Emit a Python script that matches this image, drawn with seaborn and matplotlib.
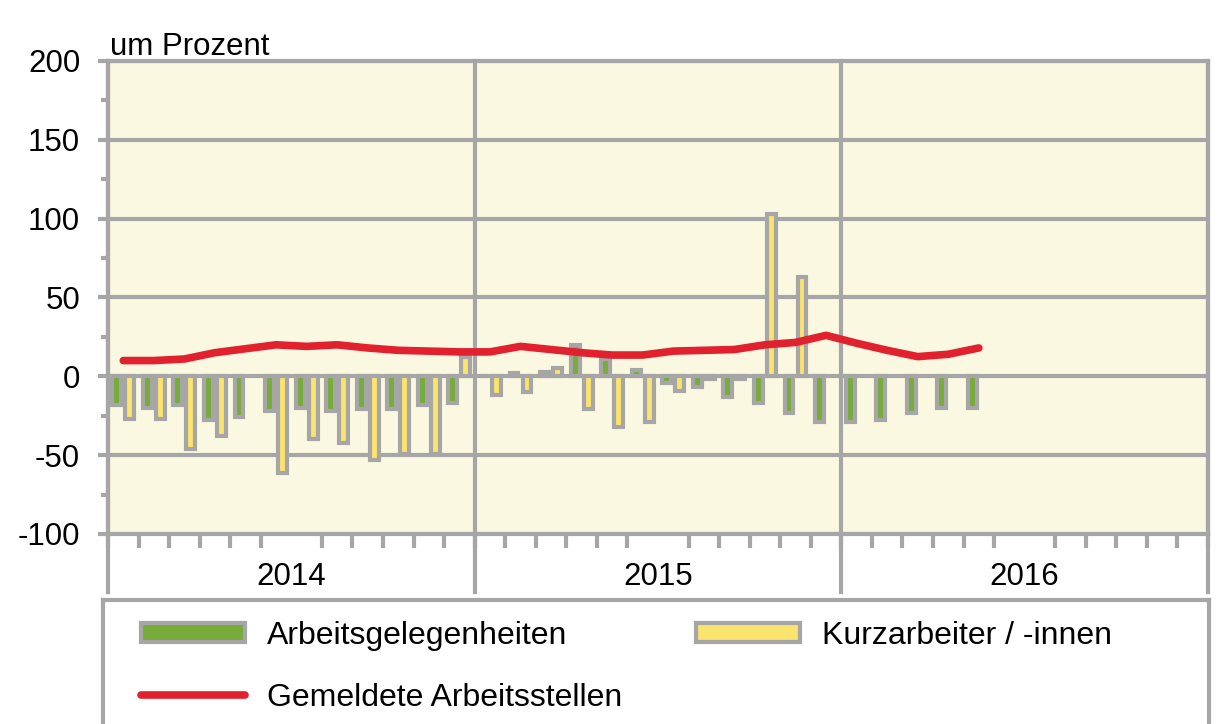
import numpy as np
import pandas as pd
import matplotlib
matplotlib.use("Agg")
import matplotlib.pyplot as plt
from matplotlib.patches import Patch
from matplotlib.lines import Line2D
from matplotlib.ticker import FixedLocator, MultipleLocator
import seaborn as sns

# --- data: monthly change against the previous year, Jan 2014 onwards ---
years = ["2014", "2015", "2016"]
months = [f"{y}-{m:02d}" for y in years for m in range(1, 13)]

arbeitsgelegenheiten = [
    -18, -20, -18, -28, -26, -22, -20, -22, -21, -21, -18, -17,
    0, 2, 3, 20, 11, 4, -4, -7, -13, -17, -23, -29,
    -29, -28, -23, -20, -20,
]
kurzarbeiter = [
    -27, -27, -46, -38, np.nan, -61, -40, -42, -53, -49, -49, 12,
    -12, -10, 5, -21, -32, -29, -9, -2, -2, 103, 63,
]
gemeldete_stellen = [
    10, 10, 11, 15, 17.5, 20, 19, 20, 18, 16.5, 16, 15.5,
    15.5, 19, 17, 15, 13.5, 13.5, 16, 16.5, 17, 20, 21.5, 26,
    21, 16.5, 12.5, 14, 18,
]
series_names = ["Arbeitsgelegenheiten", "Kurzarbeiter / -innen", "Gemeldete Arbeitsstellen"]

# --- style ---
GRAY = "#A6A6A6"
GREEN = "#77AC3A"
YELLOW = "#FBE46E"
RED = "#E2212F"
CREAM = "#FBF8E2"
LW = 3.0
FS = 22.5

plt.rcParams["font.family"] = ["Liberation Sans", "DejaVu Sans"]
plt.rcParams["axes.unicode_minus"] = False

rows = []
for name, vals in [(series_names[0], arbeitsgelegenheiten), (series_names[1], kurzarbeiter)]:
    for m, v in zip(months, vals):
        if not np.isnan(v):
            rows.append((m, name, v))
df = pd.DataFrame(rows, columns=["Monat", "Reihe", "Wert"])

fig = plt.figure(figsize=(12.2, 7.24), dpi=100)
W, H = 1220, 724
ax = fig.add_axes([108 / W, 1 - 534 / H, 1100 / W, 473 / H])
ax.set_facecolor(CREAM)
ax.set_axisbelow(True)

sns.barplot(
    data=df, x="Monat", y="Wert", hue="Reihe", order=months,
    hue_order=series_names[:2], palette=[GREEN, YELLOW], saturation=1,
    width=0.85, gap=0.32, edgecolor=GRAY, linewidth=LW,
    errorbar=None, legend=False, ax=ax, zorder=3,
)
sns.lineplot(
    x=np.arange(len(gemeldete_stellen)), y=gemeldete_stellen,
    color=RED, linewidth=5.5, ax=ax, zorder=5, solid_capstyle="round",
)

ax.set_xlim(-0.5, len(months) - 0.5)
ax.set_ylim(-100, 200)
ax.set_xlabel("")
ax.set_ylabel("")

# y axis
ax.set_yticks(range(-100, 201, 50))
ax.yaxis.set_minor_locator(MultipleLocator(25))
ax.yaxis.grid(True, which="major", color=GRAY, linewidth=LW)
ax.tick_params(axis="y", which="major", length=7, width=LW, color=GRAY,
               labelsize=FS, pad=13)
ax.tick_params(axis="y", which="minor", length=5, width=LW, color=GRAY)

# x axis: month ticks, year labels, year separators
ax.set_xticks([5.5, 17.5, 29.5], years)
ax.xaxis.set_minor_locator(FixedLocator(np.arange(-0.5, len(months), 1)))
ax.tick_params(axis="x", which="major", length=0, labelsize=FS, pad=20)
ax.tick_params(axis="x", which="minor", length=10, width=LW, color=GRAY)
for x in [-0.5, 11.5, 23.5, 35.5]:
    ax.axvline(x, ymin=-58 / 473, ymax=1, color=GRAY, linewidth=LW,
               clip_on=False, zorder=2)

for sp in ax.spines.values():
    sp.set_color(GRAY)
    sp.set_linewidth(LW)

ax.text(0.002, 1 + 6 / 473, "um Prozent", transform=ax.transAxes,
        ha="left", va="baseline", fontsize=FS)

# legend box below the chart
lax = fig.add_axes([103 / W, -0.1, 1106 / W, (1 - 600 / H) + 0.1])
lax.set_xticks([])
lax.set_yticks([])
for sp in lax.spines.values():
    sp.set_color(GRAY)
    sp.set_linewidth(LW)

handles = [
    Patch(facecolor=GREEN, edgecolor=GRAY, linewidth=LW),
    Line2D([], [], color=RED, linewidth=5.5, solid_capstyle="round"),
    Patch(facecolor=YELLOW, edgecolor=GRAY, linewidth=LW),
]
labels = [series_names[0], series_names[2], series_names[1]]
fig.legend(
    handles, labels, ncol=2, loc="upper left",
    bbox_to_anchor=(125 / W, 1 - 605 / H), bbox_transform=fig.transFigure,
    frameon=False, borderpad=0, fontsize=FS + 0.5,
    handlelength=3.25, handleheight=0.55, handletextpad=0.7,
    labelspacing=1.0, columnspacing=2.3,
)

fig.savefig("out.png", dpi=100)
